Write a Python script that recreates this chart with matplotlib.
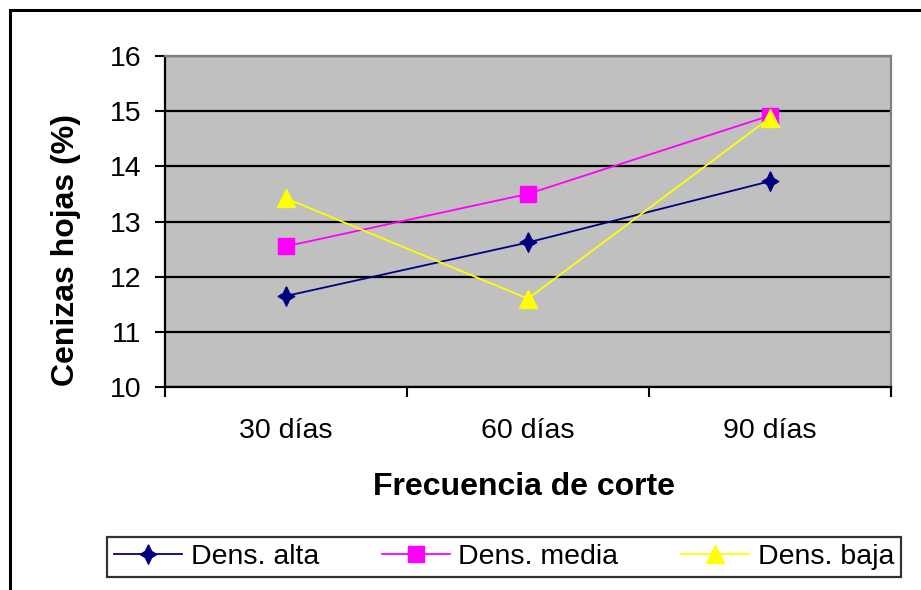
import matplotlib.pyplot as plt
from matplotlib.patches import Rectangle

plt.rcParams['font.family'] = ['Liberation Sans', 'DejaVu Sans']

# Frecuencia de corte y cenizas en hojas (%) por densidad de siembra
categories = ["30 días", "60 días", "90 días"]
dens_alta = [11.65, 12.62, 13.73]
dens_media = [12.55, 13.50, 14.92]
dens_baja = [13.42, 11.60, 14.88]

y_ticks = [10, 11, 12, 13, 14, 15, 16]

# four-point star used by the "alta" series
star = [(0, 1), (0.32, 0.32), (0.85, 0), (0.32, -0.32), (0, -1),
        (-0.32, -0.32), (-0.85, 0), (-0.32, 0.32), (0, 1)]

fig = plt.figure(figsize=(9.21, 5.90), dpi=100)
ax = fig.add_axes([165 / 921, 1 - 387 / 590, (891 - 165) / 921, (387 - 56) / 590])
ax.set_facecolor('#C0C0C0')

x = list(range(len(categories)))
ax.plot(x, dens_alta, color='#000080', lw=1.3, marker=star, ms=14,
        markerfacecolor='#000080', markeredgecolor='#000080', label='Dens. alta', zorder=3)
ax.plot(x, dens_media, color='#FF00FF', lw=1.3, marker='s', ms=11,
        markerfacecolor='#FF00FF', markeredgecolor='#FF00FF', label='Dens. media', zorder=3)
ax.plot(x, dens_baja, color='#FFFF00', lw=1.3, marker='^', ms=13,
        markerfacecolor='#FFFF00', markeredgecolor='#FFFF00', label='Dens. baja', zorder=3)

ax.set_xlim(-0.5, len(categories) - 0.5)
ax.set_ylim(10, 16)
ax.set_yticks(y_ticks)
ax.yaxis.grid(True, color='black', lw=1.6)
ax.set_axisbelow(True)

# category labels centred, tick marks on category boundaries
ax.set_xticks(x)
ax.set_xticklabels(categories)
ax.set_xticks([i - 0.5 for i in range(len(categories) + 1)], minor=True)
ax.tick_params(axis='x', which='major', length=0, pad=22, labelsize=20.5)
ax.tick_params(axis='x', which='minor', length=7, width=1.5, direction='out')
ax.tick_params(axis='y', length=7, width=1.5, direction='out', pad=10, labelsize=20.5)

for side in ['left', 'bottom']:
    ax.spines[side].set_color('black')
    ax.spines[side].set_linewidth(1.6)
for side in ['top', 'right']:
    ax.spines[side].set_color('#808080')
    ax.spines[side].set_linewidth(1.6)

ax.set_xlabel('Frecuencia de corte', fontsize=23, fontweight='bold')
ax.xaxis.set_label_coords(0.494, -0.302)
ax.xaxis.label.set_va('center')
ax.set_ylabel('Cenizas hojas (%)', fontsize=23, fontweight='bold')
ax.yaxis.set_label_coords(-0.136, 0.414)
ax.yaxis.label.set_va('center')

leg = fig.legend(loc='center', bbox_to_anchor=(504 / 921, 1 - 557 / 590),
                 ncol=3, fontsize=20.5, frameon=True, fancybox=False,
                 handlelength=2.4, handletextpad=0.3, columnspacing=2.2,
                 borderpad=0.25, borderaxespad=0)
leg.get_frame().set_edgecolor('black')
leg.get_frame().set_linewidth(1.6)

# outer chart border
fig.patches.append(Rectangle((10 / 921, -0.1), 1.0, 1.1 - 10 / 590, transform=fig.transFigure,
                             fill=False, edgecolor='black', lw=2.2))

fig.savefig('out.png', dpi=100)
